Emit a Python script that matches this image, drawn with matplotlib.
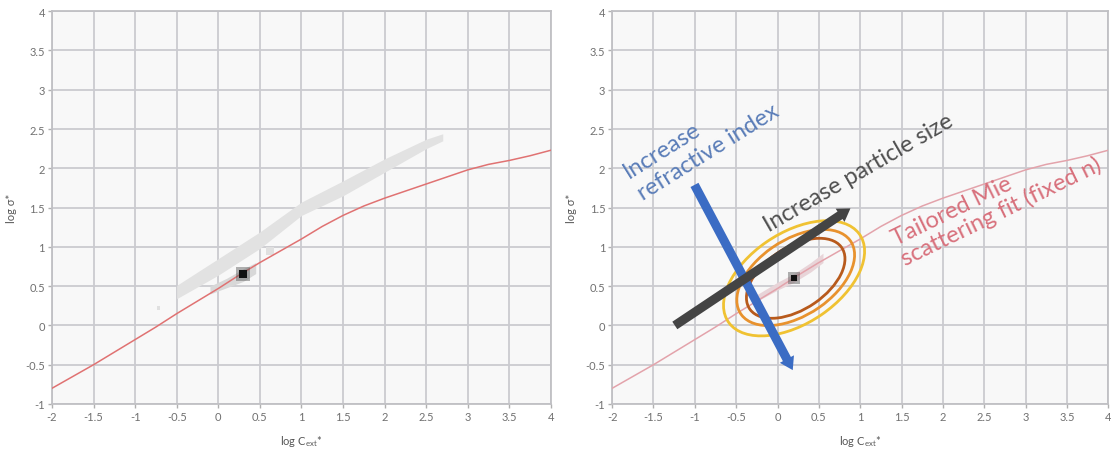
import matplotlib
matplotlib.use('Agg')
import matplotlib.pyplot as plt
from matplotlib.patches import Ellipse, FancyArrowPatch

plt.rcParams['font.family'] = ['Lato', 'DejaVu Sans']

# axis ticks
XTICKS = [-2, -1.5, -1, -0.5, 0, 0.5, 1, 1.5, 2, 2.5, 3, 3.5, 4]
XTICK_LABELS = ['-2', '-1.5', '-1', '-0.5', '0', '0.5', '1', '1.5', '2', '2.5', '3', '3.5', '4']
YTICKS = [-1, -0.5, 0, 0.5, 1, 1.5, 2, 2.5, 3, 3.5, 4]
YTICK_LABELS = ['-1', '-0.5', '0', '0.5', '1', '1.5', '2', '2.5', '3', '3.5', '4']

# tailored Mie scattering fit
mie_x = [-2, -1.75, -1.5, -1.25, -1, -0.75, -0.5, -0.25, 0, 0.25, 0.5, 0.75, 1,
         1.25, 1.5, 1.75, 2, 2.25, 2.5, 2.75, 3, 3.25, 3.5, 3.75, 4]
mie_y = [-0.8, -0.65, -0.5, -0.34, -0.18, -0.02, 0.15, 0.31, 0.47, 0.64, 0.8, 0.95, 1.1,
         1.26, 1.4, 1.52, 1.62, 1.71, 1.8, 1.89, 1.98, 2.05, 2.1, 2.16, 2.23]

# measured distribution (left panel): main gray band
band_x = [-0.5, 0.0, 0.5, 1.0, 1.5, 2.0, 2.5, 2.7]
band_lo = [0.34, 0.64, 0.98, 1.40, 1.65, 1.95, 2.25, 2.35]
band_hi = [0.51, 0.85, 1.19, 1.57, 1.84, 2.12, 2.37, 2.44]
# lower band near the mode
band2_x = [-0.1, 0.1, 0.3, 0.45]
band2_lo = [0.40, 0.48, 0.56, 0.66]
band2_hi = [0.50, 0.60, 0.72, 0.80]
mode_left = (0.3, 0.65)
specks_left_x = [-0.72, 0.62]
specks_left_y = [0.22, 0.95]

# right panel distribution
band3_x = [-0.3, 0.0, 0.2, 0.4, 0.55]
band3_lo = [0.28, 0.45, 0.55, 0.68, 0.80]
band3_hi = [0.36, 0.55, 0.66, 0.80, 0.92]
mode_right = (0.2, 0.6)

# confidence ellipses
ell_cx = [0.2, 0.22, 0.22]
ell_cy = [0.6, 0.61, 0.6]
ell_w = [1.94, 1.62, 1.36]
ell_h = [1.14, 0.95, 0.78]
ell_angle = [36, 36, 36]
ell_colors = ['#f0c232', '#e8922e', '#b85a1c']

# annotation arrows
size_arrow = [(-1.27, -0.02), (0.91, 1.51)]
index_arrow = [(-1.02, 1.82), (0.2, -0.6)]

GRID = '#cbcbd0'
FACE = '#f8f8f8'
TICKC = '#707070'


def style_axes(ax):
  ax.set_facecolor(FACE)
  ax.set_xlim(-2, 4)
  ax.set_ylim(-1, 4)
  ax.set_xticks(XTICKS, XTICK_LABELS)
  ax.set_yticks(YTICKS, YTICK_LABELS)
  ax.grid(color=GRID, lw=1.3, zorder=0)
  ax.set_axisbelow(True)
  for s in ax.spines.values():
    s.set_color('#c0c0c4')
    s.set_linewidth(1.3)
  ax.tick_params(colors='#b0b0b0', labelcolor=TICKC, labelsize=8, length=3, width=1, pad=2)
  ax.set_xlabel('log C$_\\mathregular{ext}$*', fontsize=8, color='#555555', labelpad=8)
  ax.set_ylabel('log σ*', fontsize=8, color='#555555', labelpad=6)


fig = plt.figure(figsize=(11.11, 4.52), dpi=100)
ax1 = fig.add_axes([0.0468, 0.104, 0.449, 0.869])
ax2 = fig.add_axes([0.551, 0.104, 0.4465, 0.869])

# left panel
style_axes(ax1)
ax1.fill_between(band_x, band_lo, band_hi, color='#e2e2e2', lw=0, zorder=2)
ax1.fill_between(band2_x, band2_lo, band2_hi, color='#d8d8d8', lw=0, zorder=2)
ax1.scatter(specks_left_x, specks_left_y, s=[6, 30], marker='s', color='#e0e0e0', lw=0, zorder=2)
ax1.plot(mie_x, mie_y, color='#e07272', lw=1.1, zorder=3)
ax1.scatter([mode_left[0]], [mode_left[1]], s=90, marker='s', color='#555555', lw=0, alpha=0.45, zorder=4)
ax1.scatter([mode_left[0]], [mode_left[1]], s=30, marker='s', color='#111111', lw=0, zorder=5)

# right panel
style_axes(ax2)
ax2.fill_between(band3_x, band3_lo, band3_hi, color='#e8d4d8', lw=0, zorder=2)
ax2.plot(mie_x, mie_y, color='#e3a3ab', lw=1.1, zorder=3)
ax2.scatter([mode_right[0]], [mode_right[1]], s=70, marker='s', color='#555555', lw=0, alpha=0.45, zorder=4)
ax2.scatter([mode_right[0]], [mode_right[1]], s=24, marker='s', color='#111111', lw=0, zorder=5)

for cx, cy, w, h, ang, col in zip(ell_cx, ell_cy, ell_w, ell_h, ell_angle, ell_colors):
  ax2.add_patch(Ellipse((cx, cy), w, h, angle=ang, fill=False, ec=col, lw=2.0, zorder=6))

arrow_style = 'simple,tail_width=0.65,head_width=1.15,head_length=0.9'
ax2.add_patch(FancyArrowPatch(index_arrow[0], index_arrow[1], arrowstyle=arrow_style,
                              mutation_scale=10, color='#3b6cc4', lw=0, zorder=7))
ax2.add_patch(FancyArrowPatch(size_arrow[0], size_arrow[1], arrowstyle=arrow_style,
                              mutation_scale=10, color='#444444', lw=0, zorder=8))

# multi-line text: anchor is the baseline of the last line
ax2.text(-1.66, 1.65, 'Increase\nrefractive index', rotation=32, rotation_mode='anchor',
         ha='left', va='baseline', fontsize=17, color='#5a7db8', linespacing=1.3, zorder=9)
ax2.text(-0.1, 1.2, 'Increase particle size', rotation=30, rotation_mode='anchor',
         ha='left', va='baseline', fontsize=17, color='#505050', zorder=9)
ax2.text(1.55, 0.77, 'Tailored Mie\nscattering fit (fixed n)', rotation=26, rotation_mode='anchor',
         ha='left', va='baseline', fontsize=17, color='#d8707c', linespacing=1.0, zorder=9)

fig.savefig('out.png', dpi=100)
